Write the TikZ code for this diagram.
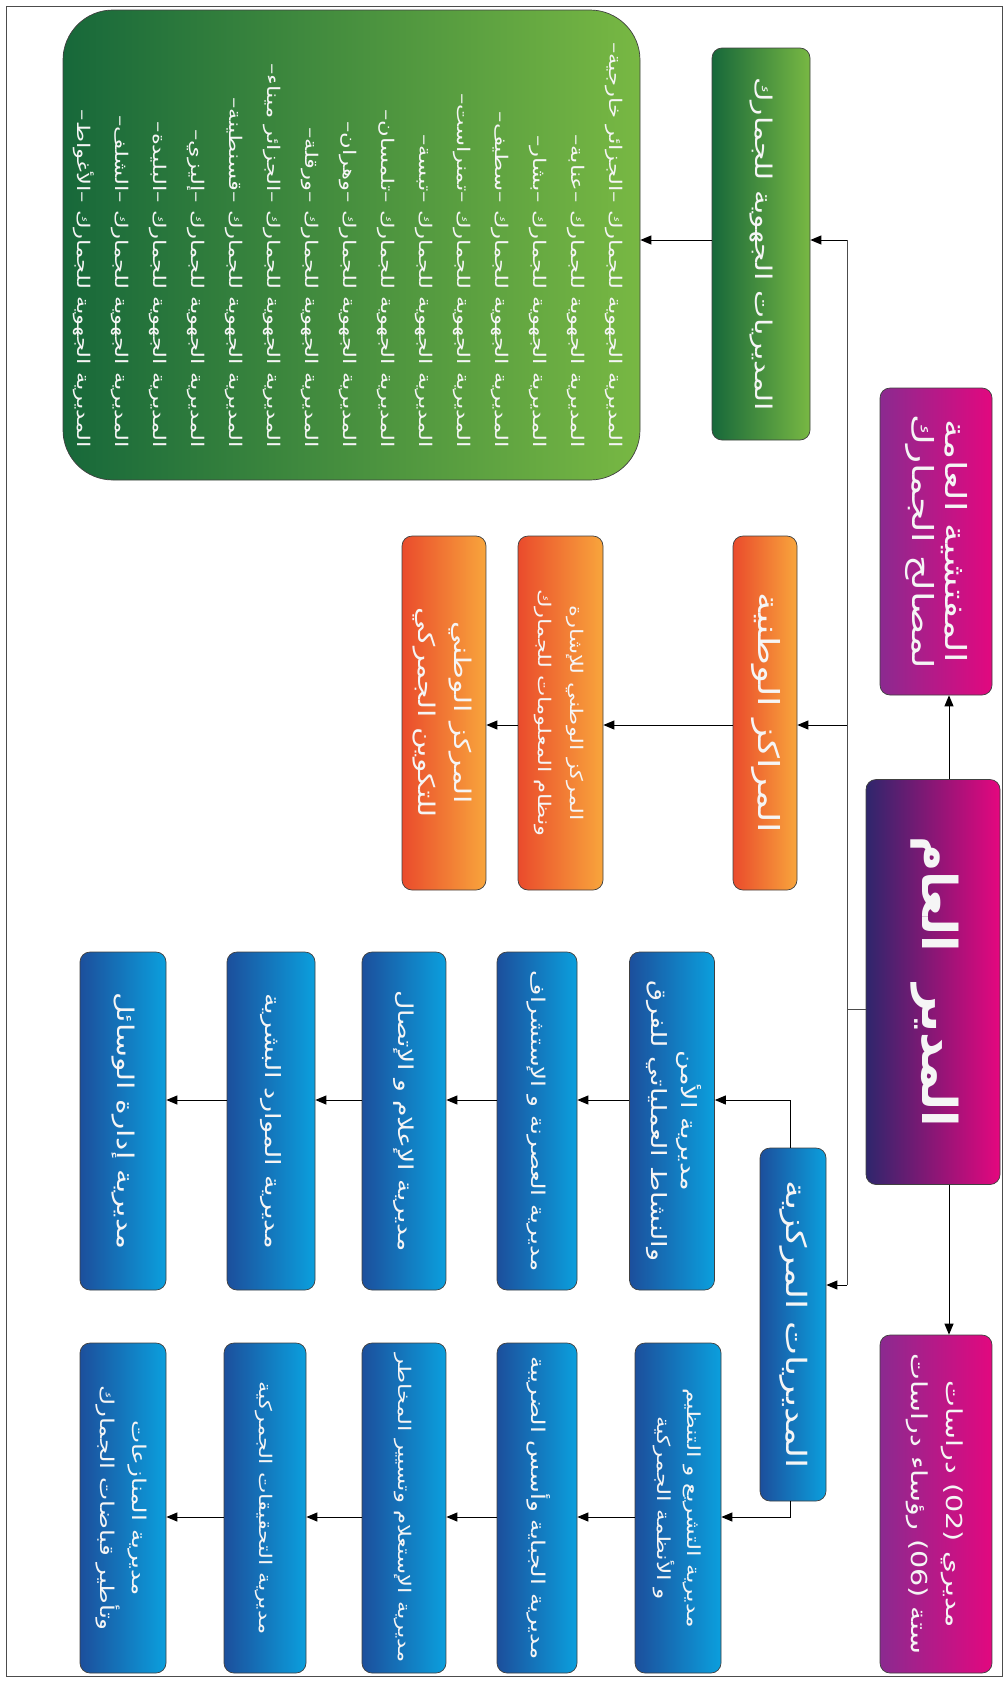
\documentclass[tikz,border=0pt]{standalone}
\usepackage{fontspec}
\usepackage{graphicx}
\usetikzlibrary{arrows.meta}
\TeXXeTstate=1
\newfontfamily\arabicfont[Script=Arabic, FakeStretch=1.3]{DejaVu Sans}
\newfontfamily\arabicmain[Script=Arabic]{DejaVu Sans}
\newcommand{\arline}[1]{\beginR #1\endR}
\newcommand{\vtext}[2][c]{\rotatebox{-90}{\begin{tabular}{@{}#1@{}}#2\end{tabular}}}
\definecolor{purA}{HTML}{2F266C}
\definecolor{purB}{HTML}{E5077F}
\definecolor{magA}{HTML}{8B2A90}
\definecolor{magB}{HTML}{E2087F}
\definecolor{bluA}{HTML}{1C4F9C}
\definecolor{bluB}{HTML}{0B9FDD}
\definecolor{ornA}{HTML}{EA4B2C}
\definecolor{ornB}{HTML}{F8A53C}
\definecolor{grnA}{HTML}{17683A}
\definecolor{grnB}{HTML}{78B843}
\tikzset{
  fs/.style 2 args={font=\arabicfont\fontsize{#1}{#2}\selectfont},
  box/.style={draw=black!75, line width=0.7pt, rounded corners=10pt, inner sep=0pt,
    text=white!96!black, fs={19}{29}},
  purbox/.style={box, left color=purA, right color=purB},
  magbox/.style={box, left color=magA, right color=magB},
  bluebox/.style={box, left color=bluA, right color=bluB},
  orbox/.style={box, left color=ornA, right color=ornB},
  grbox/.style={box, left color=grnA, right color=grnB},
  arr/.style={draw=black, line width=1pt, -{Triangle[length=11pt,width=9pt]}},
  link/.style={draw=black!70, line width=1pt},
}
\begin{document}
\begin{tikzpicture}[x=1pt,y=-1pt]
\useasboundingbox (0,0) rectangle (1007,1681);
\draw[black!70, line width=1pt] (6,6) rectangle (1002,1676);

% top level
\node[purbox, minimum width=134pt, minimum height=405pt,
  font=\arabicmain\bfseries\fontsize{48}{52}\selectfont] (main) at (933,982)
  {\vtext{\arline{المدير\ \ العام}}};
\node[magbox, minimum width=112pt, minimum height=307pt, fs={29}{33}] (insp) at (936,541.5)
  {\vtext{\arline{المفتشية العامة}\\\arline{لمصالح الجمارك}}};
\node[magbox, minimum width=112pt, minimum height=338pt, fs={22}{35}] (stud) at (936,1504)
  {\vtext{\arline{مديري \beginL(02)\endL{} دراسات}\\\arline{ستة \beginL(06)\endL{} رؤساء دراسات}}};

% green branch
\node[grbox, minimum width=98pt, minimum height=392pt, fs={23}{30}] (gh) at (761,244)
  {\vtext{\arline{المديريات الجهوية للجمارك}}};
\node[grbox, rounded corners=50pt, minimum width=577pt, minimum height=470pt,
  fs={17.5}{38}] (gb) at (351.5,245)
  {\vtext[r]{%
   \arline{المديرية الجهوية للجمارك –الجزائر خارجية–}\\
   \arline{المديرية الجهوية للجمارك –عنابة–}\\
   \arline{المديرية الجهوية للجمارك –بشار–}\\
   \arline{المديرية الجهوية للجمارك –سطيف–}\\
   \arline{المديرية الجهوية للجمارك –تمنراست–}\\
   \arline{المديرية الجهوية للجمارك –تبسة–}\\
   \arline{المديرية الجهوية للجمارك –تلمسان–}\\
   \arline{المديرية الجهوية للجمارك –وهران–}\\
   \arline{المديرية الجهوية للجمارك –ورقلة–}\\
   \arline{المديرية الجهوية للجمارك –الجزائر ميناء–}\\
   \arline{المديرية الجهوية للجمارك –قسنطينة–}\\
   \arline{المديرية الجهوية للجمارك –إليزي–}\\
   \arline{المديرية الجهوية للجمارك –البليدة–}\\
   \arline{المديرية الجهوية للجمارك –الشلف–}\\
   \arline{المديرية الجهوية للجمارك –الأغواط–}}};

% orange branch
\node[orbox, minimum width=64pt, minimum height=354pt, fs={29}{33}] (oh) at (765,713)
  {\vtext{\arline{المراكز الوطنية}}};
\node[orbox, minimum width=85pt, minimum height=354pt, fs={17.5}{32}] (o2) at (560.5,713)
  {\vtext{\arline{المركز الوطني للإشارة}\\\arline{ونظام المعلومات للجمارك}}};
\node[orbox, minimum width=84pt, minimum height=354pt, fs={23}{36}] (o3) at (444,713)
  {\vtext{\arline{المركز الوطني}\\\arline{للتكوين الجمركي}}};

% blue branch
\node[bluebox, minimum width=66pt, minimum height=353pt, fs={28}{32}] (bh) at (793,1324.5)
  {\vtext{\arline{المديريات المركزية}}};
\node[bluebox, minimum width=85pt, minimum height=338pt, fs={21}{30}] (A1) at (672,1121)
  {\vtext{\arline{مديرية الأمن}\\\arline{والنشاط العملياتي للفرق}}};
\node[bluebox, minimum width=80pt, minimum height=338pt, fs={19}{30}] (A2) at (537,1121)
  {\vtext{\arline{مديرية العصرنة و الإستشراف}}};
\node[bluebox, minimum width=84pt, minimum height=338pt, fs={20.5}{30}] (A3) at (404,1121)
  {\vtext{\arline{مديرية الإعلام و الإتصال}}};
\node[bluebox, minimum width=88pt, minimum height=338pt, fs={21}{30}] (A4) at (271,1121)
  {\vtext{\arline{مديرية الموارد البشرية}}};
\node[bluebox, minimum width=86pt, minimum height=338pt, fs={23}{30}] (A5) at (123,1121)
  {\vtext{\arline{مديرية إدارة الوسائل}}};
\node[bluebox, minimum width=86pt, minimum height=330pt, fs={18}{30}] (B1) at (678,1508)
  {\vtext{\arline{مديرية التشريع و التنظيم}\\\arline{و الأنظمة الجمركية}}};
\node[bluebox, minimum width=80pt, minimum height=330pt, fs={19}{30}] (B2) at (537,1508)
  {\vtext{\arline{مديرية الجباية وأسس الضريبة}}};
\node[bluebox, minimum width=84pt, minimum height=330pt, fs={17.5}{30}] (B3) at (404,1508)
  {\vtext{\arline{مديرية الإستعلام وتسيير المخاطر}}};
\node[bluebox, minimum width=82pt, minimum height=330pt, fs={17.5}{30}] (B4) at (265,1508)
  {\vtext{\arline{مديرية التحقيقات الجمركية}}};
\node[bluebox, minimum width=86pt, minimum height=330pt, fs={19}{32}] (B5) at (123,1508)
  {\vtext{\arline{مديرية المنازعات}\\\arline{وتأطير قباضات الجمارك}}};

% connectors
\coordinate (t1) at (847,240);
\coordinate (t2) at (847,725);
\coordinate (t3) at (847,1285);
\coordinate (tm) at (847,1009);
\coordinate (ra) at (790,1100);
\coordinate (rb) at (790,1517);

\draw[arr] ([xshift=16pt]main.north) -- ([xshift=13pt]insp.south);
\draw[arr] ([xshift=16pt]main.south) -- ([xshift=13pt]stud.north);
\draw[link] (t1) -- (t3);
\draw[link] (main.west |- tm) -- (tm);
\draw[arr] (t1) -- (gh.east |- t1);
\draw[arr] (t2) -- (oh.east |- t2);
\draw[arr] (t3) -- (bh.east |- t3);
\draw[arr] (gh.west |- t1) -- (gb.east |- t1);
\draw[arr] (oh.west |- t2) -- (o2.east |- t2);
\draw[arr] (o2.west |- t2) -- (o3.east |- t2);
\draw[arr] (ra |- bh.north) -- (ra) -- (A1.east |- ra);
\draw[arr] (A1.west |- ra) -- (A2.east |- ra);
\draw[arr] (A2.west |- ra) -- (A3.east |- ra);
\draw[arr] (A3.west |- ra) -- (A4.east |- ra);
\draw[arr] (A4.west |- ra) -- (A5.east |- ra);
\draw[arr] (rb |- bh.south) -- (rb) -- (B1.east |- rb);
\draw[arr] (B1.west |- rb) -- (B2.east |- rb);
\draw[arr] (B2.west |- rb) -- (B3.east |- rb);
\draw[arr] (B3.west |- rb) -- (B4.east |- rb);
\draw[arr] (B4.west |- rb) -- (B5.east |- rb);
\end{tikzpicture}
\end{document}
